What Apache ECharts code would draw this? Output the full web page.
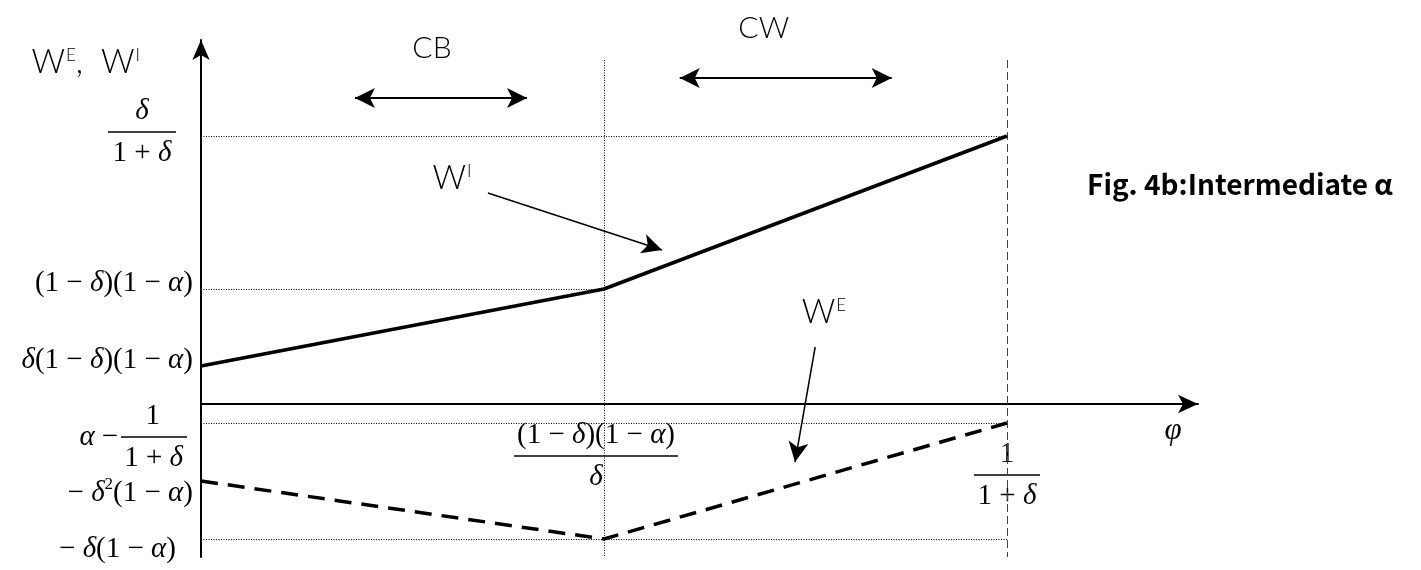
<!DOCTYPE html>
<html>
<head>
<meta charset="utf-8">
<title>Fig. 4b: Intermediate alpha</title>
<script src="https://cdn.jsdelivr.net/npm/echarts@6.0.0/dist/echarts.min.js"></script>
<style>
  html, body { margin: 0; padding: 0; background: #ffffff; }
  #chart { width: 1421px; height: 570px; }
</style>
</head>
<body>
<div id="chart"></div>
<script>
// ---- data (schematic units) ----
var phiValues = [0, 0.5, 1];               // 0, (1-δ)(1-α)/δ, 1/(1+δ)
var wIValues = [0.38, 1.15, 2.68];         // W^I, solid
var wEValues = [-0.77, -1.35, -0.19];      // W^E, dashed

var yTickValues = [2.68, 1.15, 0.38, -0.19, -0.77, -1.35];
var yTickLabels = [
  '{ic|δ}\n{b68| }\n{nc|1 + }{ic|δ}',
  '{n|(1 − }{i|δ}{n|)(1 − }{i|α}{n|)}',
  '{i|δ}{n|(1 − }{i|δ}{n|)(1 − }{i|α}{n|)}',
  '{n1|1}\n{b66r| }\n{nr|1 + }{id|δ}',
  '{n|− }{i|δ}{sup|2}{n|(1 − }{i|α}{n|)}',
  '{n|− }{i|δ}{n|(1 − }{i|α}{n|)}'
];
// "α −" written in front of the fraction at -0.19
var yPrefixValues = [-0.19];
var yPrefixLabels = ['{i|α}{nm|−}'];

var xTickValues = [0.5, 1];
var xTickLabels = [
  '{n|(1 − }{i|δ}{n|)(1 − }{i|α}{n|)}\n{b164| }\n{i|δ}',
  '{n|1}\n{b66| }\n{n|1 + }{i|δ}'
];

// ---- layout ----
var X_MAX = 1.237, Y_MIN = -1.53, Y_MAX = 3.64, GUIDE_TOP = 3.44;
var yLabelShift = [-4, -6, -6, 14, 12, 10];  // px, + is down
var yLabelGap = [17, 0, 0, 6, 0, 17];        // px kept free right of the label
var xLabelDrop = [0, 19];
var xLabelGap = [16, 0];

var SERIF = '"Liberation Serif", "Times New Roman", serif';
var SANS = 'Lato, "DejaVu Sans", sans-serif';
var GOTHIC = '"Noto Sans CJK JP", "Noto Sans", sans-serif';

function serif(extra) {
  var s = { fontFamily: SERIF, fontSize: 29, lineHeight: 34, color: '#000' };
  for (var k in extra) s[k] = extra[k];
  return s;
}
function bar(w, align) {
  // fraction bar
  return { width: w, height: 1.5, lineHeight: 8, fontSize: 4, backgroundColor: '#000', align: align };
}

var mathRich = {
  n: serif({}),
  i: serif({ fontStyle: 'italic' }),
  nc: serif({ align: 'center' }),
  ic: serif({ fontStyle: 'italic', align: 'center' }),
  nm: serif({ padding: [0, 0, 0, 7] }),
  n1: serif({ align: 'right', padding: [0, 27, 0, 0] }),
  nr: serif({ align: 'right' }),
  id: serif({ fontStyle: 'italic', align: 'right', padding: [0, 4, 0, 0] }),
  sup: serif({ fontSize: 17, verticalAlign: 'top' }),
  b66: bar(66),
  b66r: bar(66, 'right'),
  b68: bar(68),
  b164: bar(164)
};

var sansRich = {
  w: { fontFamily: SANS, fontSize: 33, fontWeight: 300, color: '#000', lineHeight: 36 },
  s: { fontFamily: SANS, fontSize: 17, fontWeight: 300, color: '#000', lineHeight: 36, verticalAlign: 'top', padding: [3, 0, 0, 1] }
};

function spacer(h) {
  var key = 'vs' + h;
  if (!mathRich[key]) mathRich[key] = { fontSize: 1, lineHeight: h };
  return '{' + key + '| }';
}
function gap(w, side) {
  var key = 'gp' + w + (side || '');
  if (!mathRich[key]) mathRich[key] = { fontSize: 1, lineHeight: 1, width: w, align: side };
  return '{' + key + '| }';
}
function addGap(str, w, side) {
  if (!w) return str;
  return str.split('\n').map(function (l) { return l + gap(w, side); }).join('\n');
}
function shiftMiddle(str, sh) {
  // move a vertically centred label down (sh > 0) or up (sh < 0)
  if (sh > 0) return spacer(2 * sh) + '\n' + str;
  if (sh < 0) return str + '\n' + spacer(-2 * sh);
  return str;
}
function findIndex(list, v) {
  for (var k = 0; k < list.length; k++) {
    if (Math.abs(list[k] - v) < 1e-9) return k;
  }
  return -1;
}

// build the label strings up front so the rich styles exist
var yLabelText = yTickLabels.map(function (t, k) {
  return shiftMiddle(addGap(t, yLabelGap[k], 'right'), yLabelShift[k]);
});
var yPrefixText = yPrefixLabels.map(function (t, k) {
  return shiftMiddle(t, yLabelShift[findIndex(yTickValues, yPrefixValues[k])]);
});
var xLabelText = xTickLabels.map(function (t, k) {
  var s = addGap(t, xLabelGap[k]);
  if (xLabelDrop[k]) s = spacer(xLabelDrop[k]) + '\n' + s;
  return s;
});

// annotations (data coordinates)
var rangeArrows = [
  { name: 'CB', from: [0.191, 3.06], to: [0.4045, 3.06], shift: 18 },
  { name: 'CW', from: [0.594, 3.26], to: [0.857, 3.26], shift: 44 }
];
var pointerArrows = [
  { from: [0.356, 2.11], to: [0.572, 1.54] },
  { from: [0.762, 0.57], to: [0.737, -0.58] }
];
var curveTags = [
  { at: [0.3114, 2.26], text: '{w|W}{s|I}' },
  { at: [0.773, 0.92], text: '{w|W}{s|E}' }
];

function pairs(xs, ys) {
  return xs.map(function (x, k) { return [x, ys[k]]; });
}

var dotted = { color: '#000', width: 1, type: [1, 1.5] };
var guideLines = [
  [{ coord: [0, yTickValues[0]] }, { coord: [phiValues[2], yTickValues[0]] }],
  [{ coord: [0, yTickValues[1]] }, { coord: [phiValues[1], yTickValues[1]] }],
  [{ coord: [0, yTickValues[3]] }, { coord: [phiValues[2], yTickValues[3]] }],
  [{ coord: [0, yTickValues[5]] }, { coord: [phiValues[2], yTickValues[5]] }],
  [{ coord: [phiValues[1], GUIDE_TOP] }, { coord: [phiValues[1], Y_MIN] }],
  [{ coord: [phiValues[2], GUIDE_TOP], lineStyle: { color: '#444', width: 1, type: [8, 4] } },
   { coord: [phiValues[2], Y_MIN] }]
];

var chart = echarts.init(document.getElementById('chart'));

var option = {
  animation: false,
  backgroundColor: '#ffffff',
  title: {
    text: 'Fig. 4b:Intermediate α',
    left: 1087,
    top: 170,
    padding: 0,
    textStyle: { fontFamily: GOTHIC, fontSize: 28, fontWeight: 'bold', color: '#000' }
  },
  grid: { left: 201, right: 223, top: 40, bottom: 13, containLabel: false, outerBoundsMode: 'none' },
  xAxis: {
    type: 'value',
    min: 0,
    max: X_MAX,
    name: '{sp| }\n{p|φ}',
    nameLocation: 'end',
    nameGap: -25,
    nameMoveOverlap: false,
    nameTextStyle: {
      align: 'center',
      verticalAlign: 'middle',
      rich: {
        sp: { fontSize: 1, lineHeight: 54 },
        p: { fontFamily: SERIF, fontStyle: 'italic', fontSize: 31, lineHeight: 34, color: '#000' }
      }
    },
    axisLine: {
      onZero: true,
      symbol: ['none', 'arrow'],
      symbolSize: [14, 20],
      lineStyle: { color: '#000', width: 2 }
    },
    axisTick: { show: false },
    splitLine: { show: false },
    axisLabel: {
      customValues: xTickValues,
      // labels sit under the zero line, not at the bottom of the grid
      margin: -139,
      color: '#000',
      rich: mathRich,
      formatter: function (v) {
        var k = findIndex(xTickValues, v);
        return k < 0 ? '' : xLabelText[k];
      }
    }
  },
  yAxis: [
    {
      type: 'value',
      min: Y_MIN,
      max: Y_MAX,
      name: '{w|W}{s|E}{w|,  W}{s|I}',
      nameLocation: 'end',
      nameGap: -22,
      nameMoveOverlap: false,
      nameTextStyle: { align: 'right', verticalAlign: 'middle', padding: [0, 61, 0, 0], rich: sansRich },
      axisLine: {
        onZero: true,
        symbol: ['none', 'arrow'],
        symbolSize: [13, 20],
        lineStyle: { color: '#000', width: 2 }
      },
      axisTick: { show: false },
      splitLine: { show: false },
      axisLabel: {
        customValues: yTickValues,
        margin: 8,
        color: '#000',
        rich: mathRich,
        formatter: function (v) {
          var k = findIndex(yTickValues, v);
          return k < 0 ? '' : yLabelText[k];
        }
      }
    },
    {
      // same scale, only carries the "α −" in front of the fraction label
      type: 'value',
      position: 'left',
      min: Y_MIN,
      max: Y_MAX,
      axisLine: { show: false },
      axisTick: { show: false },
      splitLine: { show: false },
      axisLabel: {
        customValues: yPrefixValues,
        margin: 83,
        color: '#000',
        rich: mathRich,
        formatter: function (v) {
          var k = findIndex(yPrefixValues, v);
          return k < 0 ? '' : yPrefixText[k];
        }
      }
    }
  ],
  series: [
    {
      name: 'guides',
      type: 'line',
      data: [],
      silent: true,
      clip: false,
      markLine: {
        silent: true,
        symbol: ['none', 'none'],
        label: { show: false },
        lineStyle: dotted,
        data: guideLines
      }
    },
    {
      name: 'W^I',
      type: 'line',
      data: pairs(phiValues, wIValues),
      symbol: 'none',
      silent: true,
      z: 5,
      lineStyle: { color: '#000', width: 3.5 }
    },
    {
      name: 'W^E',
      type: 'line',
      data: pairs(phiValues, wEValues),
      symbol: 'none',
      silent: true,
      z: 5,
      lineStyle: { color: '#000', width: 3.5, type: [17, 10] }
    },
    {
      name: 'regions',
      type: 'line',
      data: [],
      silent: true,
      clip: false,
      markLine: {
        silent: true,
        symbol: ['arrow', 'arrow'],
        symbolSize: [15, 20],
        lineStyle: { color: '#000', width: 2, type: 'solid' },
        label: {
          show: true,
          position: 'middle',
          distance: 35,
          formatter: '{b}',
          fontFamily: SANS,
          fontWeight: 300,
          fontSize: 30,
          lineHeight: 30,
          color: '#000'
        },
        data: rangeArrows.map(function (a) {
          return [{ name: a.name, coord: a.from, label: { padding: [0, a.shift, 0, 0] } }, { coord: a.to }];
        })
      }
    },
    {
      name: 'pointers',
      type: 'line',
      data: [],
      silent: true,
      clip: false,
      markLine: {
        silent: true,
        symbol: ['none', 'arrow'],
        symbolSize: [15, 20],
        lineStyle: { color: '#000', width: 1.5, type: 'solid' },
        label: { show: false },
        data: pointerArrows.map(function (a) {
          return [{ coord: a.from }, { coord: a.to }];
        })
      },
      markPoint: {
        silent: true,
        symbol: 'circle',
        symbolSize: 1,
        itemStyle: { color: 'rgba(0,0,0,0)' },
        label: { show: true, position: 'inside', rich: sansRich },
        data: curveTags.map(function (t) {
          return { coord: t.at, label: { formatter: t.text } };
        })
      }
    }
  ]
};

chart.setOption(option);
</script>
</body>
</html>
